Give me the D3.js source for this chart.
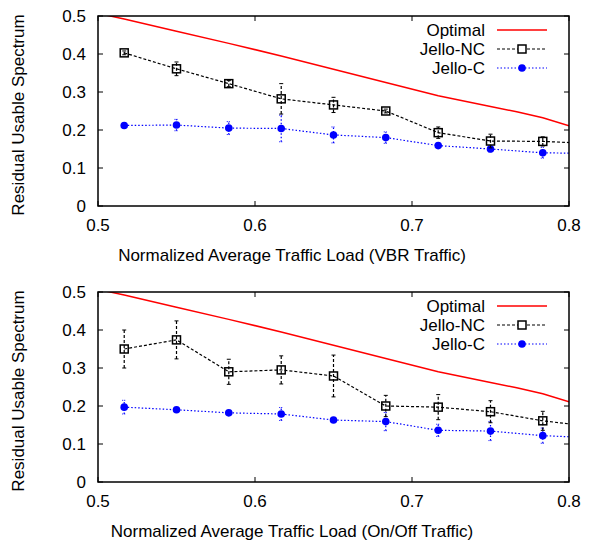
<!DOCTYPE html>
<html><head><meta charset="utf-8">
<script src="https://cdn.jsdelivr.net/npm/d3@7"></script>
<style>body{margin:0;background:#fff}svg{display:block}text{font-family:"Liberation Sans",Arial,sans-serif;}</style>
</head><body>
<script>
// ---- data ----
const loads = [0.5167, 0.55, 0.5833, 0.6167, 0.65, 0.6833, 0.7167, 0.75, 0.7833, 0.8167];
const optLoads = [0.5, 0.5167, 0.55, 0.5833, 0.6167, 0.65, 0.6833, 0.7167, 0.75, 0.7667, 0.7833, 0.8];
const optimal = [0.507, 0.492, 0.460, 0.428, 0.395, 0.360, 0.325, 0.290, 0.262, 0.248, 0.232, 0.211];

const vbrNC    = [0.403, 0.361, 0.322, 0.282, 0.266, 0.250, 0.193, 0.171, 0.170, 0.164];
const vbrNCErr = [0.005, 0.018, 0.008, 0.040, 0.020, 0.005, 0.015, 0.018, 0.012, 0];
const vbrC     = [0.212, 0.213, 0.205, 0.204, 0.187, 0.180, 0.159, 0.150, 0.140, 0.138];
const vbrCErr  = [0.003, 0.015, 0.017, 0.035, 0.021, 0.015, 0.004, 0.008, 0.014, 0];

const onoffNC    = [0.350, 0.374, 0.290, 0.295, 0.279, 0.200, 0.197, 0.185, 0.161, 0.145];
const onoffNCErr = [0.050, 0.050, 0.033, 0.037, 0.055, 0.028, 0.033, 0.029, 0.025, 0];
const onoffC     = [0.197, 0.190, 0.182, 0.179, 0.163, 0.159, 0.136, 0.134, 0.122, 0.116];
const onoffCErr  = [0.018, 0.004, 0.004, 0.017, 0.004, 0.024, 0.016, 0.025, 0.020, 0];

const xTicks = [0.5, 0.6, 0.7, 0.8];
const yTicks = [0, 0.1, 0.2, 0.3, 0.4, 0.5];
const seriesNames = ["Optimal", "Jello-NC", "Jello-C"];
const yLabel = "Residual Usable Spectrum";
const xLabels = ["Normalized Average Traffic Load (VBR Traffic)", "Normalized Average Traffic Load (On/Off Traffic)"];

// ---- drawing ----
const W = 597, H = 545, FS = 17;
const svg = d3.select("body").append("svg").attr("width", W).attr("height", H);
const left = 98, right = 569;
const x = d3.scaleLinear().domain([0.5, 0.8]).range([left, right]);

function panel(idx, top, nc, ncErr, c, cErr) {
  const bottom = top + 190;
  const y = d3.scaleLinear().domain([0, 0.5]).range([bottom, top]);
  const g = svg.append("g");
  const clipId = "clip" + idx;
  svg.append("clipPath").attr("id", clipId).append("rect")
    .attr("x", left).attr("y", top).attr("width", right - left).attr("height", bottom - top);

  // ticks (inward, mirrored)
  const ax = g.append("g").attr("stroke", "#000").attr("stroke-width", 1);
  xTicks.forEach(t => {
    ax.append("line").attr("x1", x(t)).attr("x2", x(t)).attr("y1", bottom).attr("y2", bottom - 5);
    ax.append("line").attr("x1", x(t)).attr("x2", x(t)).attr("y1", top).attr("y2", top + 5);
  });
  yTicks.forEach(t => {
    ax.append("line").attr("x1", left).attr("x2", left + 5).attr("y1", y(t)).attr("y2", y(t));
    ax.append("line").attr("x1", right).attr("x2", right - 5).attr("y1", y(t)).attr("y2", y(t));
  });
  // tick labels
  xTicks.forEach(t => {
    g.append("text").attr("x", x(t)).attr("y", bottom + 25).attr("text-anchor", "middle")
      .attr("font-size", FS).text(d3.format(".1f")(t));
  });
  yTicks.forEach(t => {
    g.append("text").attr("x", left - 12).attr("y", y(t) + 6).attr("text-anchor", "end")
      .attr("font-size", FS).text(t === 0 ? "0" : d3.format(".1f")(t));
  });
  // axis labels
  g.append("text").attr("x", 292).attr("y", bottom + 55).attr("text-anchor", "middle")
    .attr("font-size", FS).text(xLabels[idx]);
  g.append("text").attr("transform", `translate(24,${(top + bottom) / 2 + 4}) rotate(-90)`)
    .attr("text-anchor", "middle").attr("font-size", FS).text(yLabel);

  const plot = g.append("g").attr("clip-path", `url(#${clipId})`);
  const line = d3.line().x(d => x(d[0])).y(d => y(d[1]));

  // optimal
  plot.append("path").datum(optLoads.map((l, i) => [l, optimal[i]]))
    .attr("d", line).attr("fill", "none").attr("stroke", "#ff0000").attr("stroke-width", 1.5);

  // Jello-C
  const cData = loads.map((l, i) => [l, c[i], cErr[i]]);
  plot.append("path").datum(cData).attr("d", line).attr("fill", "none")
    .attr("stroke", "#0000ff").attr("stroke-width", 1.2).attr("stroke-dasharray", "1.5,2");
  cData.forEach(d => {
    if (d[2] > 0) {
      plot.append("line").attr("x1", x(d[0])).attr("x2", x(d[0])).attr("y1", y(d[1] - d[2])).attr("y2", y(d[1] + d[2]))
        .attr("stroke", "#0000ff").attr("stroke-width", 1.2).attr("stroke-dasharray", "1.5,2");
      [d[1] - d[2], d[1] + d[2]].forEach(v => plot.append("line").attr("x1", x(d[0]) - 2).attr("x2", x(d[0]) + 2)
        .attr("y1", y(v)).attr("y2", y(v)).attr("stroke", "#0000ff").attr("stroke-width", 1).attr("stroke-dasharray", "1,1"));
    }
    plot.append("circle").attr("cx", x(d[0])).attr("cy", y(d[1])).attr("r", 3.8).attr("fill", "#0000ff");
  });

  // Jello-NC
  const nData = loads.map((l, i) => [l, nc[i], ncErr[i]]);
  plot.append("path").datum(nData).attr("d", line).attr("fill", "none")
    .attr("stroke", "#000").attr("stroke-width", 1.2).attr("stroke-dasharray", "3,2");
  nData.forEach(d => {
    if (d[2] > 0) {
      plot.append("line").attr("x1", x(d[0])).attr("x2", x(d[0])).attr("y1", y(d[1] - d[2])).attr("y2", y(d[1] + d[2]))
        .attr("stroke", "#000").attr("stroke-width", 1.2).attr("stroke-dasharray", "3,2");
      [d[1] - d[2], d[1] + d[2]].forEach(v => plot.append("line").attr("x1", x(d[0]) - 2).attr("x2", x(d[0]) + 2)
        .attr("y1", y(v)).attr("y2", y(v)).attr("stroke", "#000").attr("stroke-width", 1));
    }
    plot.append("rect").attr("x", x(d[0]) - 4).attr("y", y(d[1]) - 4).attr("width", 8).attr("height", 8)
      .attr("fill", "none").attr("stroke", "#000").attr("stroke-width", 1.5);
  });

  // frame
  g.append("rect").attr("x", left).attr("y", top).attr("width", right - left).attr("height", bottom - top)
    .attr("fill", "none").attr("stroke", "#000").attr("stroke-width", 1.5);

  // legend
  const lg = g.append("g");
  const ly0 = top + 14;
  seriesNames.forEach((name, i) => {
    const ly = ly0 + i * 19;
    lg.append("text").attr("x", 485).attr("y", ly + 6).attr("text-anchor", "end").attr("font-size", FS).text(name);
    const ln = lg.append("line").attr("x1", 497).attr("x2", 547).attr("y1", ly).attr("y2", ly);
    if (i === 0) ln.attr("stroke", "#ff0000").attr("stroke-width", 1.5);
    if (i === 1) {
      ln.attr("stroke", "#000").attr("stroke-width", 1.2).attr("stroke-dasharray", "3,2");
      lg.append("rect").attr("x", 518).attr("y", ly - 4).attr("width", 8).attr("height", 8)
        .attr("fill", "#fff").attr("stroke", "#000").attr("stroke-width", 1.5);
    }
    if (i === 2) {
      ln.attr("stroke", "#0000ff").attr("stroke-width", 1.2).attr("stroke-dasharray", "1.5,2");
      lg.append("circle").attr("cx", 522).attr("cy", ly).attr("r", 3.8).attr("fill", "#0000ff");
    }
  });
}

panel(0, 16, vbrNC, vbrNCErr, vbrC, vbrCErr);
panel(1, 292, onoffNC, onoffNCErr, onoffC, onoffCErr);
</script>
</body></html>
